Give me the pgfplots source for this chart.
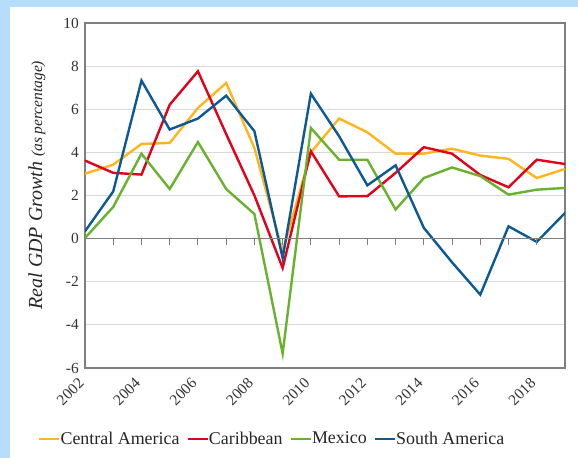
\documentclass[border=0pt]{standalone}
\usepackage{pgfplots}
\pgfplotsset{compat=1.18}
\usepackage{fontspec}
\setmainfont{Liberation Serif}
\definecolor{bgblue}{HTML}{B4DEFC}
\definecolor{gridgray}{HTML}{D9D9D9}
\definecolor{framegray}{HTML}{7F7F7F}
\definecolor{cam}{HTML}{FFB61C}
\definecolor{car}{HTML}{E3001B}
\definecolor{mex}{HTML}{68B22D}
\definecolor{sam}{HTML}{0B5A96}
\pgfplotstableread{
year CA CB MX SA
2002 3.01 3.62 0.03 0.34
2003 3.43 3.05 1.47 2.19
2004 4.39 2.97 3.94 7.33
2005 4.44 6.21 2.30 5.06
2006 6.06 7.76 4.48 5.57
2007 7.22 4.85 2.30 6.63
2008 4.20 2.00 1.14 4.98
2009 -0.60 -1.36 -5.33 -0.90
2010 4.00 4.05 5.13 6.72
2011 5.57 1.96 3.66 4.75
2012 4.93 1.97 3.66 2.47
2013 3.94 3.05 1.35 3.40
2014 3.94 4.24 2.81 0.50
2015 4.17 3.94 3.30 -1.10
2016 3.85 2.95 2.90 -2.60
2017 3.70 2.38 2.04 0.57
2018 2.81 3.66 2.27 -0.15
2019 3.23 3.46 2.35 1.19
}\gdp
\begin{document}
\begin{tikzpicture}
\useasboundingbox (0bp,0bp) rectangle (578bp,458bp);
\fill[bgblue] (0bp,0bp) rectangle (578bp,458bp);
\fill[white] (10bp,0bp) rectangle (578bp,451bp);
\begin{axis}[
  at={(85bp,90bp)}, anchor=south west,
  scale only axis, width=480bp, height=345bp,
  xmin=2002, xmax=2019, ymin=-6, ymax=10,
  xtick={2002,2004,...,2018}, ytick={-6,-4,...,10},
  major tick length=0pt,
  ymajorgrids, grid style={draw=gridgray, line width=1bp},
  axis line style={draw=framegray, line width=1.3bp},
  tick label style={font=\fontsize{15.5}{18}\selectfont, text=black!80},
  xticklabel style={xshift=-3bp, yshift=-12bp, rotate=45, anchor=east, inner sep=1bp},
  yticklabel style={inner sep=6bp},
  /pgf/number format/assume math mode=true,
  /pgf/number format/1000 sep={},
  ylabel={\itshape\fontsize{20}{23}\selectfont Real GDP Growth {\fontsize{15.5}{18}\selectfont(as percentage)}},
  ylabel style={at={(axis description cs:-0.075,0.53)}, anchor=south, text=black!85},
  legend style={at={(axis description cs:0.39,-0.205)}, anchor=center, draw=none, fill=none,
    font=\fontsize{18}{21}\selectfont, text=black!85, legend columns=4,
    /tikz/every even column/.append style={column sep=5bp},
    /tikz/every odd column/.append style={column sep=-2bp}},
  legend image code/.code={\draw[#1] (0bp,0bp) -- (20bp,0bp);},
  every axis plot/.append style={line width=2.4bp, line join=miter},
]
\addplot[cam] table[x=year,y=CA] {\gdp};
\addlegendentry{Central America}
\addplot[car] table[x=year,y=CB] {\gdp};
\addlegendentry{Caribbean}
\addplot[mex] table[x=year,y=MX] {\gdp};
\addlegendentry{Mexico}
\addplot[sam] table[x=year,y=SA] {\gdp};
\addlegendentry{South America}
\end{axis}
\begin{axis}[
  at={(85bp,90bp)}, anchor=south west,
  scale only axis, width=480bp, height=345bp,
  xmin=2002, xmax=2019, ymin=-6, ymax=10,
  axis x line=middle, axis y line=none,
  axis line style={draw=framegray, line width=1.3bp, -},
  xtick={2002,...,2019}, xticklabels={},
  tick align=outside, major tick length=6bp,
  tick style={draw=framegray, line width=1bp},
]
\end{axis}
\end{tikzpicture}
\end{document}
